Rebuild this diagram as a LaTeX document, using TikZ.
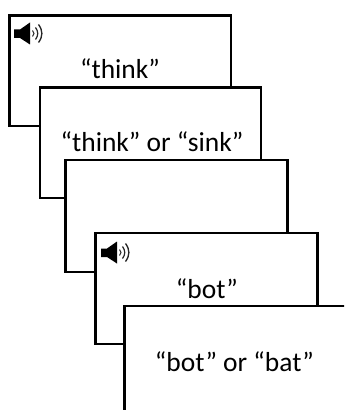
\documentclass[tikz,border=0pt]{standalone}
\usepackage{fontspec}
\setmainfont{Carlito}
\tikzset{
  x=0.75pt, y=-0.75pt,
  card/.style={draw=black, line width=1.7pt, fill=white, rectangle, anchor=north west, inner sep=0pt, outer sep=0pt, line join=miter},
  word/.style={font=\fontsize{20.6pt}{24pt}\selectfont, text=black, inner sep=0pt, anchor=center},
  speaker/.pic={
    \fill[black] (0,-4) -- (6,-4) -- (16,-11) -- (16,11) -- (6,4.5) -- (0,4.5) -- cycle;
    \draw[black!85, line width=0.8pt] (18.5,-3) .. controls (20.5,-1) and (20.5,1) .. (18.5,3);
    \draw[black!85, line width=0.9pt] (21.5,-6) .. controls (24.5,-2) and (24.5,2) .. (21.5,6);
    \draw[black!85, line width=1pt] (24.5,-9) .. controls (29,-3) and (29,3) .. (24.5,9);
  }
}
\begin{document}
\begin{tikzpicture}
\useasboundingbox (0,0) rectangle (344,410);
\clip (0,0) rectangle (344,410);
\node[card, minimum width=166pt, minimum height=83pt] (c1) at (9.5,15.5) {};
\pic at (14,33.5) {speaker};
\node[word] (t1) at (120,69) {“think”};
\node[card, minimum width=166pt, minimum height=83pt] (c2) at (40,87.5) {};
\node[word] (t2) at (152,142) {“think” or “sink”};
\node[card, minimum width=166.5pt, minimum height=84pt] (c3) at (65.5,160) {};
\node[card, minimum width=166.5pt, minimum height=83.25pt] (c4) at (95.5,232.7) {};
\pic at (101,252.5) {speaker};
\node[word] (t4) at (207,289) {“bot”};
\node[card, minimum width=180pt, minimum height=100pt] (c5) at (124.5,306) {};
\node[word] (t5) at (234.5,362) {“bot” or “bat”};
\end{tikzpicture}
\end{document}
